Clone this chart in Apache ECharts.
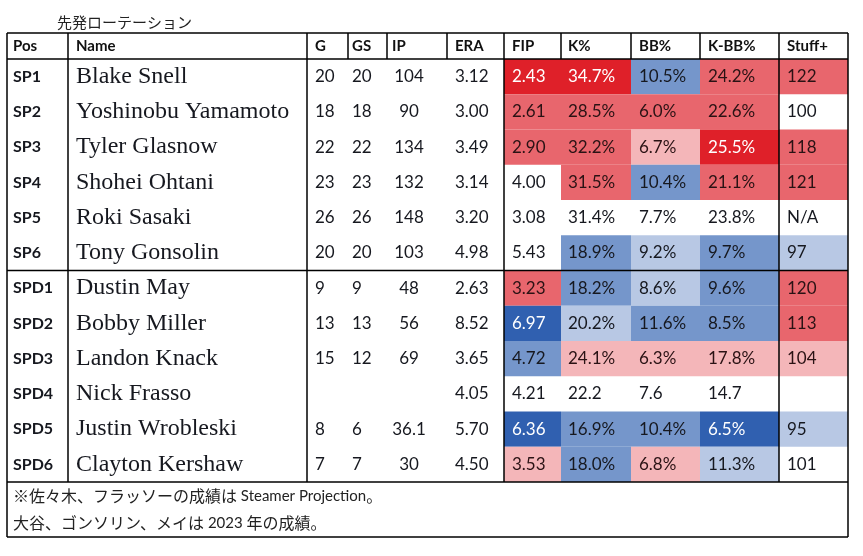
<!DOCTYPE html>
<html>
<head>
<meta charset="utf-8">
<script src="https://cdn.jsdelivr.net/npm/echarts@6/dist/echarts.min.js"></script>
<style>
  html, body { margin: 0; padding: 0; background: #fff; }
  #chart { width: 863px; height: 556px; }
</style>
</head>
<body>
<div id="chart"></div>
<script>
  // データ
  const title = '先発ローテーション';
  const headers = ['Pos', 'Name', 'G', 'GS', 'IP', 'ERA', 'FIP', 'K%', 'BB%', 'K-BB%', 'Stuff+'];
  const pos = ['SP1', 'SP2', 'SP3', 'SP4', 'SP5', 'SP6', 'SPD1', 'SPD2', 'SPD3', 'SPD4', 'SPD5', 'SPD6'];
  const names = ['Blake Snell', 'Yoshinobu Yamamoto', 'Tyler Glasnow', 'Shohei Ohtani', 'Roki Sasaki', 'Tony Gonsolin',
    'Dustin May', 'Bobby Miller', 'Landon Knack', 'Nick Frasso', 'Justin Wrobleski', 'Clayton Kershaw'];
  const games = ['20', '18', '22', '23', '26', '20', '9', '13', '15', '', '8', '7'];
  const starts = ['20', '18', '22', '23', '26', '20', '9', '13', '12', '', '6', '7'];
  const innings = ['104', '90', '134', '132', '148', '103', '48', '56', '69', '', '36.1', '30'];
  const era = ['3.12', '3.00', '3.49', '3.14', '3.20', '4.98', '2.63', '8.52', '3.65', '4.05', '5.70', '4.50'];
  const fip = ['2.43', '2.61', '2.90', '4.00', '3.08', '5.43', '3.23', '6.97', '4.72', '4.21', '6.36', '3.53'];
  const kPct = ['34.7%', '28.5%', '32.2%', '31.5%', '31.4%', '18.9%', '18.2%', '20.2%', '24.1%', '22.2', '16.9%', '18.0%'];
  const bbPct = ['10.5%', '6.0%', '6.7%', '10.4%', '7.7%', '9.2%', '8.6%', '11.6%', '6.3%', '7.6', '10.4%', '6.8%'];
  const kbbPct = ['24.2%', '22.6%', '25.5%', '21.1%', '23.8%', '9.7%', '9.6%', '8.5%', '17.8%', '14.7', '6.5%', '11.3%'];
  const stuff = ['122', '100', '118', '121', 'N/A', '97', '120', '113', '104', '', '95', '101'];
  // 色の段階 (3 = 濃い赤 ... -3 = 濃い青)
  const fipLv = [3, 2, 2, 0, 0, 0, 2, -3, -2, 0, -3, 1];
  const kLv = [3, 2, 2, 2, 0, -2, -2, -1, 1, 0, -2, -2];
  const bbLv = [-2, 2, 1, -2, 0, -1, -1, -2, 1, 0, -2, 1];
  const kbbLv = [2, 2, 3, 2, 0, -2, -2, -2, 1, 0, -3, -1];
  const stuffLv = [2, 0, 2, 2, 0, -1, 2, 2, 1, 0, -1, 0];
  const notes = ['※佐々木、フラッソーの成績は Steamer Projection。', '大谷、ゴンソリン、メイは 2023 年の成績。'];

  // レイアウト (表の枠内、px単位)
  const colEdges = [0, 61, 300, 341, 380, 440, 497, 554, 624, 693, 772, 841];
  const textPad = [6, 8, 8, 4, 5, 8, 8, 7, 8, 8, 8];
  const ipCenter = 402; // IPは中央揃え
  const headerH = 26, rowH = 35.25, noteH = 27.5;
  const bodyTop = headerH, bodyBottom = headerH + rowH * pos.length;
  const tableH = bodyBottom + noteH * notes.length;

  const levelColors = { 3: '#df2029', 2: '#e8666d', 1: '#f4b6b9', '-1': '#b8c8e4', '-2': '#7596cb', '-3': '#3060b0' };
  const font = 'Lato, "Noto Sans", sans-serif';

  const cells = [];
  headers.forEach((h, i) => cells.push({ c0: i, c1: i + 1, y0: 0, y1: headerH, text: h, col: i,
    font: 'bold 15px ' + font }));
  const columns = [pos, names, games, starts, innings, era, fip, kPct, bbPct, kbbPct, stuff];
  const levels = [null, null, null, null, null, null, fipLv, kLv, bbLv, kbbLv, stuffLv];
  pos.forEach((p, r) => {
    columns.forEach((arr, i) => {
      const lv = levels[i] ? levels[i][r] : 0;
      cells.push({
        c0: i, c1: i + 1, y0: bodyTop + r * rowH, y1: bodyTop + (r + 1) * rowH,
        text: arr[r], col: i, level: lv, center: i === 4,
        font: i === 0 ? 'bold 16px ' + font : i === 1 ? '24px "Liberation Serif", "Times New Roman", serif' : '17px ' + font,
        color: Math.abs(lv) === 3 ? '#fff' : lv > 0 ? '#2a1214' : '#16181f'
      });
    });
  });
  // 注記: 和文と欧文でフォントを分ける
  const noteRich = s => s.replace(/([\x20-\x7e]+)|([^\x20-\x7e]+)/g,
    (m, lat, jp) => lat ? '{l|' + lat + '}' : '{j|' + jp + '}');
  notes.forEach((n, j) => cells.push({ c0: 0, c1: 11, y0: bodyBottom + j * noteH, y1: bodyBottom + (j + 1) * noteH,
    text: noteRich(n), col: 0, rich: true, color: '#222' }));

  // 罫線
  const rules = [];
  [0, headerH, bodyTop + rowH * 6, bodyBottom, tableH].forEach(y => rules.push([0, y, 841, y]));
  [0, 841].forEach(x => rules.push([x, 0, x, tableH]));
  colEdges.slice(1, -1).forEach(x => rules.push([x, 0, x, headerH]));
  [61, 300, 497, 772].forEach(x => rules.push([x, bodyTop, x, bodyBottom]));

  const myChart = echarts.init(document.getElementById('chart'));
  const option = {
    animation: false,
    title: {
      text: title, left: 52, top: 10,
      textStyle: { fontSize: 15, fontWeight: 'normal', color: '#222', fontFamily: '"Noto Sans CJK JP"' }
    },
    grid: { left: 7, top: 33, width: 841, height: tableH },
    xAxis: { type: 'value', min: 0, max: 841, show: false },
    yAxis: { type: 'value', min: 0, max: tableH, inverse: true, show: false },
    series: [{
      type: 'custom',
      clip: false,
      encode: { x: [0, 2], y: [1, 3] },
      data: cells.map(c => [colEdges[c.c0], c.y0, colEdges[c.c1], c.y1]),
      renderItem: function (params, api) {
        const cell = cells[params.dataIndex];
        const p0 = api.coord([api.value(0), api.value(1)]);
        const p1 = api.coord([api.value(2), api.value(3)]);
        const cy = (p0[1] + p1[1]) / 2;
        const children = [];
        const fill = levelColors[cell.level];
        if (fill) {
          children.push({ type: 'rect', shape: { x: p0[0], y: p0[1], width: p1[0] - p0[0], height: p1[1] - p0[1] },
            style: { fill: fill } });
        }
        if (!cell.text) return { type: 'group', children: children };
        const style = { text: cell.text, y: cy, verticalAlign: 'middle', fill: cell.color || '#111' };
        if (cell.rich) {
          style.rich = {
            j: { fontSize: 16, fontFamily: '"Noto Sans CJK JP"', fill: '#222' },
            l: { fontSize: 15, fontFamily: font, fill: '#222' }
          };
        } else {
          style.font = cell.font;
        }
        if (cell.center) {
          style.x = api.coord([ipCenter, 0])[0];
          style.align = 'center';
        } else {
          style.x = p0[0] + textPad[cell.col];
          style.align = 'left';
        }
        children.push({ type: 'text', style: style });
        return { type: 'group', children: children };
      }
    }, {
      type: 'custom',
      clip: false,
      encode: { x: [0, 2], y: [1, 3] },
      data: rules,
      renderItem: function (params, api) {
        const a = api.coord([api.value(0), api.value(1)]);
        const b = api.coord([api.value(2), api.value(3)]);
        return { type: 'line', shape: { x1: a[0], y1: a[1], x2: b[0], y2: b[1] },
          style: { stroke: '#000', lineWidth: 1.5 } };
      }
    }]
  };
  myChart.setOption(option);
</script>
</body>
</html>
